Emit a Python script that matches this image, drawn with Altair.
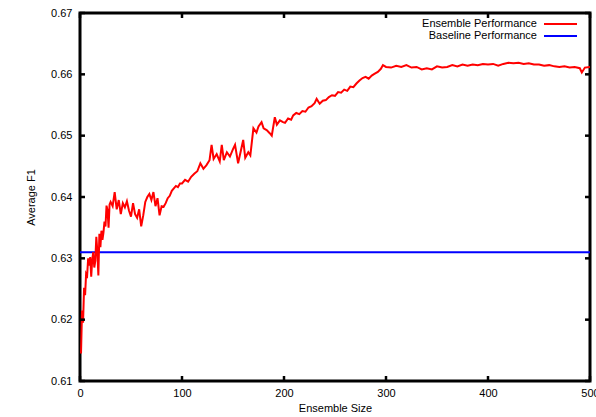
import altair as alt
import pandas as pd

# Ensemble performance series (ensemble size vs. average F1)
ens_size = [1, 2, 3, 4, 5, 6, 7, 8, 9, 10,
            11, 12, 13, 14, 15, 16, 17, 18, 19, 20,
            21, 22, 23, 24, 25, 26, 27, 28, 29, 30,
            32, 34, 36, 38, 40, 42, 44, 46, 48, 50,
            52, 54, 56, 58, 60, 62, 64, 66, 68, 70,
            72, 74, 76, 78, 80, 82, 84, 86, 88, 90,
            92, 94, 96, 98, 100, 103, 106, 109, 112, 115,
            118, 121, 124, 127, 129, 131, 134, 137, 139, 141,
            144, 147, 150, 152, 155, 157, 160, 162, 165, 167,
            170, 173, 175, 178, 180, 183, 186, 188, 191, 193,
            196, 199, 201, 204, 207, 209, 212, 215, 218, 221,
            224, 227, 230, 232, 235, 238, 241, 244, 247, 250,
            253, 256, 259, 262, 265, 268, 271, 274, 277, 280,
            283, 286, 289, 292, 295, 297, 300, 305, 310, 315,
            320, 325, 330, 335, 340, 345, 350, 355, 360, 365,
            370, 375, 380, 385, 390, 395, 400, 405, 410, 415,
            420, 425, 430, 435, 440, 445, 450, 455, 460, 465,
            470, 475, 480, 485, 490, 492, 495, 500]
ens_f1 = [0.6145, 0.6215, 0.6195, 0.6252, 0.6240, 0.6275, 0.6272, 0.6300, 0.6288, 0.6302,
          0.6270, 0.6298, 0.6310, 0.6285, 0.6296, 0.6335, 0.6312, 0.6272, 0.6340, 0.6318,
          0.6345, 0.6330, 0.6342, 0.6360, 0.6352, 0.6386, 0.6378, 0.6350, 0.6388, 0.6392,
          0.6385, 0.6408, 0.6380, 0.6395, 0.6372, 0.6390, 0.6383, 0.6393, 0.6378, 0.6368,
          0.6390, 0.6372, 0.6366, 0.6380, 0.6352, 0.6370, 0.6392, 0.6400, 0.6405, 0.6395,
          0.6408, 0.6385, 0.6398, 0.6370, 0.6385, 0.6384, 0.6390, 0.6398, 0.6402, 0.6410,
          0.6414, 0.6418, 0.6416, 0.6422, 0.6422, 0.6428, 0.6425, 0.6433, 0.6438, 0.6442,
          0.6455, 0.6446, 0.6452, 0.6460, 0.6485, 0.6462, 0.6470, 0.6458, 0.6485, 0.6460,
          0.6473, 0.6466, 0.6478, 0.6485, 0.6455, 0.6470, 0.6493, 0.6464, 0.6473, 0.6468,
          0.6512, 0.6505, 0.6515, 0.6522, 0.6512, 0.6509, 0.6504, 0.6500, 0.6530, 0.6518,
          0.6525, 0.6522, 0.6521, 0.6528, 0.6526, 0.6533, 0.6537, 0.6535, 0.6540, 0.6539,
          0.6546, 0.6548, 0.6553, 0.6560, 0.6552, 0.6557, 0.6558, 0.6563, 0.6566, 0.6565,
          0.6571, 0.6570, 0.6575, 0.6573, 0.6580, 0.6579, 0.6585, 0.6590, 0.6594, 0.6596,
          0.6593, 0.6598, 0.6601, 0.6604, 0.6609, 0.6615, 0.6612, 0.6611, 0.6614, 0.6612,
          0.6615, 0.6611, 0.6612, 0.6608, 0.6610, 0.6608, 0.6613, 0.6611, 0.6612, 0.6615,
          0.6613, 0.6616, 0.6614, 0.6616, 0.6615, 0.6617, 0.6616, 0.6617, 0.6614, 0.6617,
          0.6619, 0.6618, 0.6619, 0.6617, 0.6618, 0.6616, 0.6616, 0.6614, 0.6615, 0.6613,
          0.6612, 0.6613, 0.6611, 0.6612, 0.6610, 0.6603, 0.6611, 0.6612]

baseline_f1 = [0.631]

x_ticks = [0, 100, 200, 300, 400, 500]
y_ticks = [0.61, 0.62, 0.63, 0.64, 0.65, 0.66, 0.67]

legend_labels = ["Ensemble Performance", "Baseline Performance"]
legend_colors = ["#ff0000", "#0000ff"]

W, H = 510, 368
FONT = "Liberation Sans"

ens_df = pd.DataFrame({"size": ens_size, "f1": ens_f1})
base_df = pd.DataFrame({"size": [0], "f1": baseline_f1})
xt_df = pd.DataFrame({"size": x_ticks})
yt_df = pd.DataFrame({"f1": y_ticks})

xscale = alt.Scale(domain=[0, 500], nice=False, zero=False)
yscale = alt.Scale(domain=[0.61, 0.67], nice=False, zero=False)

xaxis = alt.Axis(title="Ensemble Size", values=x_ticks, format="d",
                 tickSize=0, domain=False, grid=False, labelFlush=False,
                 labelOverlap=False, labelBound=False,
                 labelPadding=6, titlePadding=4)
yaxis = alt.Axis(title="Average F1", values=y_ticks, format=".2f",
                 tickSize=0, domain=False, grid=False, labelFlush=False,
                 labelOverlap=False,
                 labelPadding=8, titlePadding=14)

X = alt.X("size:Q", scale=xscale, axis=xaxis)
Y = alt.Y("f1:Q", scale=yscale, axis=yaxis)

ens_line = alt.Chart(ens_df).mark_line(color="#ff0000", strokeWidth=2, clip=True).encode(
    x=X, y=Y)

base_line = alt.Chart(base_df).mark_rule(color="#0000ff", strokeWidth=2).encode(y=Y)

tick_style = dict(color="black", strokeWidth=2.5)
xt_bottom = alt.Chart(xt_df).mark_rule(**tick_style).encode(
    x=X, y=alt.value(H), y2=alt.value(H - 5))
xt_top = alt.Chart(xt_df).mark_rule(**tick_style).encode(
    x=X, y=alt.value(0), y2=alt.value(5))
yt_left = alt.Chart(yt_df).mark_rule(**tick_style).encode(
    y=Y, x=alt.value(0), x2=alt.value(5))
yt_right = alt.Chart(yt_df).mark_rule(**tick_style).encode(
    y=Y, x=alt.value(W), x2=alt.value(W - 5))

leg_layers = []
for i, (lab, col) in enumerate(zip(legend_labels, legend_colors)):
    ly = 11 + 12 * i
    ldf = pd.DataFrame({"label": [lab]})
    leg_layers.append(
        alt.Chart(ldf).mark_text(align="right", baseline="middle", font=FONT,
                                 fontSize=11, color="black").encode(
            x=alt.value(457), y=alt.value(ly), text="label:N"))
    leg_layers.append(
        alt.Chart(ldf).mark_rule(color=col, strokeWidth=2).encode(
            x=alt.value(464), x2=alt.value(497), y=alt.value(ly)))

chart = alt.layer(
    base_line, ens_line, xt_bottom, xt_top, yt_left, yt_right, *leg_layers
).properties(
    width=W, height=H,
    background="white",
    autosize=alt.AutoSizeParams(type="none"),
    padding={"left": 80, "top": 13, "right": 6, "bottom": 36},
).configure_view(
    stroke="black", strokeWidth=3
).configure_axis(
    labelFont=FONT, labelFontSize=11, labelColor="black",
    titleFont=FONT, titleFontSize=11, titleFontWeight="normal", titleColor="black",
)

chart.save("out.html", embed_options={"renderer": "svg", "actions": False})
